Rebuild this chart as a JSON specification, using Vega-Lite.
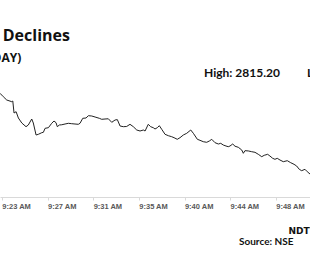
{
  "$schema": "https://vega.github.io/schema/vega-lite/v6.json",
  "autosize": {"type": "none"},
  "padding": {"left": 0, "right": 0, "top": 85, "bottom": 83},
  "width": 310,
  "height": 112,
  "background": "white",
  "config": {"view": {"stroke": null}, "text": {"font": "Lato", "fontWeight": "bold", "color": "#111"}},
  "layer": [
    {
      "data": {"values": [
        {"slot": 22.56, "price": 2814.90},
        {"slot": 22.82, "price": 2813.41},
        {"slot": 23.11, "price": 2811.20},
        {"slot": 23.41, "price": 2809.05},
        {"slot": 23.85, "price": 2807.95},
        {"slot": 23.94, "price": 2808.40},
        {"slot": 24.05, "price": 2800.60},
        {"slot": 24.23, "price": 2801.45},
        {"slot": 24.43, "price": 2797.35},
        {"slot": 24.73, "price": 2794.10},
        {"slot": 25.10, "price": 2791.70},
        {"slot": 25.30, "price": 2792.80},
        {"slot": 25.60, "price": 2796.70},
        {"slot": 25.74, "price": 2794.10},
        {"slot": 25.98, "price": 2786.30},
        {"slot": 26.18, "price": 2786.75},
        {"slot": 26.48, "price": 2787.80},
        {"slot": 26.62, "price": 2788.05},
        {"slot": 26.77, "price": 2790.65},
        {"slot": 27.06, "price": 2791.05},
        {"slot": 27.35, "price": 2793.90},
        {"slot": 27.55, "price": 2795.40},
        {"slot": 27.73, "price": 2794.30},
        {"slot": 27.84, "price": 2791.70},
        {"slot": 28.02, "price": 2792.80},
        {"slot": 28.23, "price": 2792.95},
        {"slot": 28.52, "price": 2793.45},
        {"slot": 28.81, "price": 2793.90},
        {"slot": 29.10, "price": 2793.65},
        {"slot": 29.39, "price": 2793.45},
        {"slot": 29.68, "price": 2793.25},
        {"slot": 29.83, "price": 2793.90},
        {"slot": 30.07, "price": 2797.15},
        {"slot": 30.36, "price": 2797.35},
        {"slot": 30.56, "price": 2798.85},
        {"slot": 30.86, "price": 2798.65},
        {"slot": 31.15, "price": 2798.00},
        {"slot": 31.52, "price": 2797.15},
        {"slot": 31.73, "price": 2796.50},
        {"slot": 32.02, "price": 2796.70},
        {"slot": 32.31, "price": 2796.85},
        {"slot": 32.61, "price": 2794.55},
        {"slot": 32.90, "price": 2796.05},
        {"slot": 33.10, "price": 2796.30},
        {"slot": 33.34, "price": 2792.15},
        {"slot": 33.63, "price": 2791.70},
        {"slot": 33.92, "price": 2791.85},
        {"slot": 34.21, "price": 2793.25},
        {"slot": 34.50, "price": 2791.70},
        {"slot": 34.80, "price": 2789.55},
        {"slot": 35.09, "price": 2788.90},
        {"slot": 35.38, "price": 2789.55},
        {"slot": 35.53, "price": 2788.90},
        {"slot": 35.81, "price": 2793.25},
        {"slot": 36.02, "price": 2791.70},
        {"slot": 36.25, "price": 2791.05},
        {"slot": 36.40, "price": 2790.20},
        {"slot": 36.60, "price": 2791.05},
        {"slot": 36.78, "price": 2792.35},
        {"slot": 36.99, "price": 2790.00},
        {"slot": 37.28, "price": 2786.75},
        {"slot": 37.57, "price": 2785.85},
        {"slot": 37.86, "price": 2785.20},
        {"slot": 38.07, "price": 2784.55},
        {"slot": 38.35, "price": 2783.50},
        {"slot": 38.59, "price": 2784.55},
        {"slot": 38.88, "price": 2786.30},
        {"slot": 39.18, "price": 2787.40},
        {"slot": 39.53, "price": 2789.55},
        {"slot": 39.76, "price": 2787.40},
        {"slot": 40.11, "price": 2783.50},
        {"slot": 40.34, "price": 2782.85},
        {"slot": 40.63, "price": 2781.95},
        {"slot": 40.93, "price": 2781.55},
        {"slot": 41.16, "price": 2782.40},
        {"slot": 41.37, "price": 2783.50},
        {"slot": 41.66, "price": 2781.30},
        {"slot": 41.95, "price": 2780.45},
        {"slot": 42.16, "price": 2780.90},
        {"slot": 42.38, "price": 2779.80},
        {"slot": 42.62, "price": 2779.15},
        {"slot": 42.82, "price": 2778.70},
        {"slot": 42.97, "price": 2779.15},
        {"slot": 43.21, "price": 2780.45},
        {"slot": 43.41, "price": 2779.00},
        {"slot": 43.70, "price": 2778.30},
        {"slot": 44.00, "price": 2776.55},
        {"slot": 44.14, "price": 2774.40},
        {"slot": 44.28, "price": 2776.10},
        {"slot": 44.57, "price": 2775.95},
        {"slot": 44.87, "price": 2775.45},
        {"slot": 45.16, "price": 2775.05},
        {"slot": 45.45, "price": 2773.75},
        {"slot": 45.75, "price": 2772.20},
        {"slot": 45.97, "price": 2773.10},
        {"slot": 46.27, "price": 2773.75},
        {"slot": 46.47, "price": 2772.65},
        {"slot": 46.71, "price": 2771.15},
        {"slot": 46.91, "price": 2770.50},
        {"slot": 47.11, "price": 2771.15},
        {"slot": 47.35, "price": 2770.05},
        {"slot": 47.64, "price": 2768.95},
        {"slot": 47.99, "price": 2769.60},
        {"slot": 48.29, "price": 2768.30},
        {"slot": 48.58, "price": 2767.25},
        {"slot": 48.81, "price": 2766.15},
        {"slot": 49.04, "price": 2764.00},
        {"slot": 49.25, "price": 2763.10},
        {"slot": 49.54, "price": 2764.00},
        {"slot": 49.74, "price": 2762.45},
        {"slot": 49.98, "price": 2760.95}
      ]},
      "mark": {"type": "line", "color": "#222222", "strokeWidth": 1, "clip": true},
      "encoding": {
        "x": {
          "field": "slot", "type": "quantitative",
          "scale": {"domain": [22.82, 49.98], "nice": false, "zero": false},
          "axis": {
            "title": null, "grid": false,
            "values": [23, 27, 31, 35, 39, 43, 47],
            "labelExpr": "datum.value < 39 ? '9:' + datum.value + ' AM' : '9:' + (datum.value + 1) + ' AM'",
            "labelOffset": 14,
            "labelFont": "Liberation Sans", "labelFontSize": 7.5, "labelColor": "#595959", "labelFontWeight": "bold",
            "labelPadding": 2,
            "domainColor": "#d9d9d9", "tickColor": "#d9d9d9", "tickSize": 3
          }
        },
        "y": {
          "field": "price", "type": "quantitative",
          "scale": {"domain": [2746, 2818.8], "nice": false, "zero": false},
          "axis": null
        }
      }
    },
    {
      "data": {"values": [{}]},
      "mark": {"type": "text", "text": "Share Price Declines", "align": "right", "baseline": "alphabetic", "fontSize": 16, "font": "Open Sans"},
      "encoding": {"x": {"datum": 28.95}, "y": {"datum": 2847.6}}
    },
    {
      "data": {"values": [{}]},
      "mark": {"type": "text", "text": "(INTRADAY)", "align": "right", "baseline": "alphabetic", "fontSize": 12, "font": "Open Sans"},
      "encoding": {"x": {"datum": 24.68}, "y": {"datum": 2833.75}}
    },
    {
      "data": {"values": [{}]},
      "mark": {"type": "text", "text": "High: 2815.20", "align": "left", "baseline": "alphabetic", "fontSize": 12},
      "encoding": {"x": {"datum": 40.69}, "y": {"datum": 2824.0}}
    },
    {
      "data": {"values": [{}]},
      "mark": {"type": "text", "text": "Low: 2760.95", "align": "left", "baseline": "alphabetic", "fontSize": 12},
      "encoding": {"x": {"datum": 49.72}, "y": {"datum": 2824.0}}
    },
    {
      "data": {"values": [{}]},
      "mark": {"type": "text", "text": "Source: NSE", "align": "left", "baseline": "alphabetic", "fontSize": 10},
      "encoding": {"x": {"datum": 43.76}, "y": {"datum": 2714.8}}
    },
    {
      "data": {"values": [{}]},
      "mark": {"type": "text", "text": "NDTV", "align": "left", "baseline": "alphabetic", "fontSize": 9, "fontWeight": 900, "font": "DejaVu Sans"},
      "encoding": {"x": {"datum": 48.10}, "y": {"datum": 2721.95}}
    }
  ]
}
